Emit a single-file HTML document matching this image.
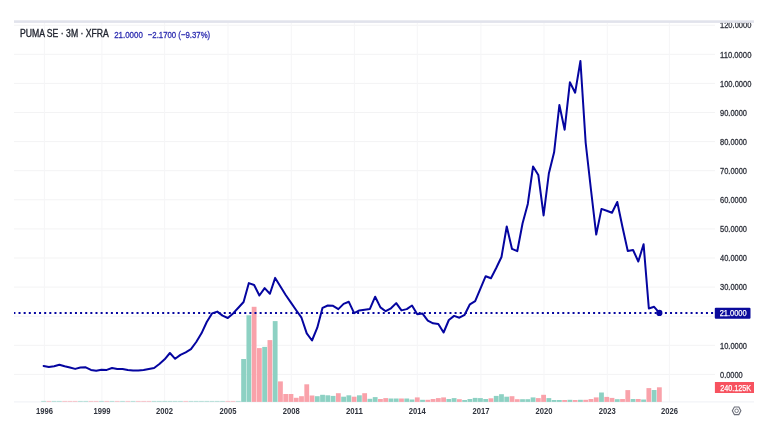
<!DOCTYPE html><html><head><meta charset="utf-8"><style>
html,body{margin:0;padding:0;background:#fff;width:767px;height:433px;overflow:hidden}
svg{display:block;will-change:transform}
text{font-family:"Liberation Sans",sans-serif}
</style></head><body>
<svg width="767" height="433" viewBox="0 0 767 433">
<rect width="767" height="433" fill="#fff"/>
<rect x="14" y="373.90" width="701" height="1" fill="#f3f3f4"/>
<rect x="14" y="344.80" width="701" height="1" fill="#f3f3f4"/>
<rect x="14" y="315.70" width="701" height="1" fill="#f3f3f4"/>
<rect x="14" y="286.60" width="701" height="1" fill="#f3f3f4"/>
<rect x="14" y="257.50" width="701" height="1" fill="#f3f3f4"/>
<rect x="14" y="228.40" width="701" height="1" fill="#f3f3f4"/>
<rect x="14" y="199.30" width="701" height="1" fill="#f3f3f4"/>
<rect x="14" y="170.20" width="701" height="1" fill="#f3f3f4"/>
<rect x="14" y="141.10" width="701" height="1" fill="#f3f3f4"/>
<rect x="14" y="112.00" width="701" height="1" fill="#f3f3f4"/>
<rect x="14" y="82.90" width="701" height="1" fill="#f3f3f4"/>
<rect x="14" y="53.80" width="701" height="1" fill="#f3f3f4"/>
<rect x="14" y="24.70" width="701" height="1" fill="#f3f3f4"/>
<rect x="43.90" y="22" width="1" height="380" fill="#f5f5f7"/>
<rect x="101.40" y="22" width="1" height="380" fill="#f5f5f7"/>
<rect x="164.10" y="22" width="1" height="380" fill="#f5f5f7"/>
<rect x="227.50" y="22" width="1" height="380" fill="#f5f5f7"/>
<rect x="290.80" y="22" width="1" height="380" fill="#f5f5f7"/>
<rect x="353.90" y="22" width="1" height="380" fill="#f5f5f7"/>
<rect x="416.80" y="22" width="1" height="380" fill="#f5f5f7"/>
<rect x="480.40" y="22" width="1" height="380" fill="#f5f5f7"/>
<rect x="543.50" y="22" width="1" height="380" fill="#f5f5f7"/>
<rect x="606.80" y="22" width="1" height="380" fill="#f5f5f7"/>
<rect x="668.90" y="22" width="1" height="380" fill="#f5f5f7"/>
<rect x="14" y="401.4" width="740" height="1" fill="#eef0f5"/>
<rect x="41.20" y="400.90" width="4.8" height="1" fill="#8dd1c3" opacity="0.6"/>
<rect x="46.46" y="400.90" width="4.8" height="1" fill="#f9a2aa" opacity="0.6"/>
<rect x="51.73" y="400.90" width="4.8" height="1" fill="#8dd1c3" opacity="0.6"/>
<rect x="56.99" y="400.90" width="4.8" height="1" fill="#8dd1c3" opacity="0.6"/>
<rect x="62.25" y="400.90" width="4.8" height="1" fill="#f9a2aa" opacity="0.6"/>
<rect x="67.51" y="400.90" width="4.8" height="1" fill="#f9a2aa" opacity="0.6"/>
<rect x="72.78" y="400.90" width="4.8" height="1" fill="#f9a2aa" opacity="0.6"/>
<rect x="78.04" y="400.90" width="4.8" height="1" fill="#8dd1c3" opacity="0.6"/>
<rect x="83.30" y="400.90" width="4.8" height="1" fill="#8dd1c3" opacity="0.6"/>
<rect x="88.57" y="400.90" width="4.8" height="1" fill="#f9a2aa" opacity="0.6"/>
<rect x="93.83" y="400.90" width="4.8" height="1" fill="#f9a2aa" opacity="0.6"/>
<rect x="99.09" y="400.90" width="4.8" height="1" fill="#8dd1c3" opacity="0.6"/>
<rect x="104.36" y="400.90" width="4.8" height="1" fill="#f9a2aa" opacity="0.6"/>
<rect x="109.62" y="400.90" width="4.8" height="1" fill="#8dd1c3" opacity="0.6"/>
<rect x="114.88" y="400.90" width="4.8" height="1" fill="#f9a2aa" opacity="0.6"/>
<rect x="120.14" y="400.90" width="4.8" height="1" fill="#8dd1c3" opacity="0.6"/>
<rect x="125.41" y="400.90" width="4.8" height="1" fill="#f9a2aa" opacity="0.6"/>
<rect x="130.67" y="400.90" width="4.8" height="1" fill="#8dd1c3" opacity="0.6"/>
<rect x="135.93" y="400.90" width="4.8" height="1" fill="#f9a2aa" opacity="0.6"/>
<rect x="141.20" y="400.90" width="4.8" height="1" fill="#f9a2aa" opacity="0.6"/>
<rect x="146.46" y="400.90" width="4.8" height="1" fill="#f9a2aa" opacity="0.6"/>
<rect x="151.72" y="400.90" width="4.8" height="1" fill="#8dd1c3" opacity="0.6"/>
<rect x="156.99" y="400.90" width="4.8" height="1" fill="#8dd1c3" opacity="0.6"/>
<rect x="162.25" y="400.90" width="4.8" height="1" fill="#8dd1c3" opacity="0.6"/>
<rect x="167.51" y="400.90" width="4.8" height="1" fill="#8dd1c3" opacity="0.6"/>
<rect x="172.77" y="400.90" width="4.8" height="1" fill="#8dd1c3" opacity="0.6"/>
<rect x="178.04" y="400.90" width="4.8" height="1" fill="#8dd1c3" opacity="0.6"/>
<rect x="183.30" y="400.90" width="4.8" height="1" fill="#f9a2aa" opacity="0.6"/>
<rect x="188.56" y="400.90" width="4.8" height="1" fill="#8dd1c3" opacity="0.6"/>
<rect x="193.83" y="400.90" width="4.8" height="1" fill="#8dd1c3" opacity="0.6"/>
<rect x="199.09" y="400.90" width="4.8" height="1" fill="#8dd1c3" opacity="0.6"/>
<rect x="204.35" y="400.90" width="4.8" height="1" fill="#8dd1c3" opacity="0.6"/>
<rect x="209.62" y="400.90" width="4.8" height="1" fill="#8dd1c3" opacity="0.6"/>
<rect x="214.88" y="400.90" width="4.8" height="1" fill="#8dd1c3" opacity="0.6"/>
<rect x="220.14" y="400.90" width="4.8" height="1" fill="#8dd1c3" opacity="0.6"/>
<rect x="225.40" y="400.90" width="4.8" height="1" fill="#f9a2aa" opacity="0.6"/>
<rect x="230.67" y="400.90" width="4.8" height="1" fill="#f9a2aa" opacity="0.6"/>
<rect x="235.93" y="400.90" width="4.8" height="1" fill="#8dd1c3" opacity="0.6"/>
<rect x="241.19" y="359.00" width="4.8" height="42.90" fill="#8dd1c3"/>
<rect x="246.46" y="315.30" width="4.8" height="86.60" fill="#8dd1c3"/>
<rect x="251.72" y="306.80" width="4.8" height="95.10" fill="#f9a2aa"/>
<rect x="256.98" y="348.10" width="4.8" height="53.80" fill="#f9a2aa"/>
<rect x="262.25" y="346.90" width="4.8" height="55.00" fill="#8dd1c3"/>
<rect x="267.51" y="340.10" width="4.8" height="61.80" fill="#f9a2aa"/>
<rect x="272.77" y="321.10" width="4.8" height="80.80" fill="#8dd1c3"/>
<rect x="278.04" y="381.40" width="4.8" height="20.50" fill="#f9a2aa"/>
<rect x="283.30" y="394.00" width="4.8" height="7.90" fill="#f9a2aa"/>
<rect x="288.56" y="394.00" width="4.8" height="7.90" fill="#f9a2aa"/>
<rect x="293.82" y="397.80" width="4.8" height="4.10" fill="#f9a2aa"/>
<rect x="299.09" y="396.20" width="4.8" height="5.70" fill="#f9a2aa"/>
<rect x="304.35" y="384.30" width="4.8" height="17.60" fill="#f9a2aa"/>
<rect x="309.61" y="395.50" width="4.8" height="6.40" fill="#f9a2aa"/>
<rect x="314.88" y="396.20" width="4.8" height="5.70" fill="#8dd1c3"/>
<rect x="320.14" y="394.80" width="4.8" height="7.10" fill="#8dd1c3"/>
<rect x="325.40" y="395.30" width="4.8" height="6.60" fill="#8dd1c3"/>
<rect x="330.67" y="395.90" width="4.8" height="6.00" fill="#8dd1c3"/>
<rect x="335.93" y="393.20" width="4.8" height="8.70" fill="#f9a2aa"/>
<rect x="341.19" y="396.70" width="4.8" height="5.20" fill="#8dd1c3"/>
<rect x="346.45" y="395.30" width="4.8" height="6.60" fill="#8dd1c3"/>
<rect x="351.72" y="396.70" width="4.8" height="5.20" fill="#f9a2aa"/>
<rect x="356.98" y="395.30" width="4.8" height="6.60" fill="#8dd1c3"/>
<rect x="362.24" y="393.20" width="4.8" height="8.70" fill="#f9a2aa"/>
<rect x="367.51" y="398.80" width="4.8" height="3.10" fill="#8dd1c3"/>
<rect x="372.77" y="397.10" width="4.8" height="4.80" fill="#8dd1c3"/>
<rect x="378.03" y="399.00" width="4.8" height="2.90" fill="#f9a2aa"/>
<rect x="383.30" y="398.10" width="4.8" height="3.80" fill="#f9a2aa"/>
<rect x="388.56" y="398.50" width="4.8" height="3.40" fill="#8dd1c3"/>
<rect x="393.82" y="398.50" width="4.8" height="3.40" fill="#8dd1c3"/>
<rect x="399.08" y="398.50" width="4.8" height="3.40" fill="#f9a2aa"/>
<rect x="404.35" y="398.50" width="4.8" height="3.40" fill="#8dd1c3"/>
<rect x="409.61" y="399.50" width="4.8" height="2.40" fill="#8dd1c3"/>
<rect x="414.87" y="397.40" width="4.8" height="4.50" fill="#f9a2aa"/>
<rect x="420.14" y="399.80" width="4.8" height="2.10" fill="#8dd1c3"/>
<rect x="425.40" y="399.80" width="4.8" height="2.10" fill="#f9a2aa"/>
<rect x="430.66" y="399.00" width="4.8" height="2.90" fill="#f9a2aa"/>
<rect x="435.93" y="398.10" width="4.8" height="3.80" fill="#f9a2aa"/>
<rect x="441.19" y="397.40" width="4.8" height="4.50" fill="#f9a2aa"/>
<rect x="446.45" y="399.00" width="4.8" height="2.90" fill="#8dd1c3"/>
<rect x="451.71" y="398.10" width="4.8" height="3.80" fill="#8dd1c3"/>
<rect x="456.98" y="399.20" width="4.8" height="2.70" fill="#f9a2aa"/>
<rect x="462.24" y="400.00" width="4.8" height="1.90" fill="#8dd1c3"/>
<rect x="467.50" y="399.00" width="4.8" height="2.90" fill="#8dd1c3"/>
<rect x="472.77" y="397.90" width="4.8" height="4.00" fill="#8dd1c3"/>
<rect x="478.03" y="398.10" width="4.8" height="3.80" fill="#8dd1c3"/>
<rect x="483.29" y="399.00" width="4.8" height="2.90" fill="#8dd1c3"/>
<rect x="488.56" y="398.30" width="4.8" height="3.60" fill="#f9a2aa"/>
<rect x="493.82" y="395.90" width="4.8" height="6.00" fill="#8dd1c3"/>
<rect x="499.08" y="394.20" width="4.8" height="7.70" fill="#8dd1c3"/>
<rect x="504.34" y="396.70" width="4.8" height="5.20" fill="#8dd1c3"/>
<rect x="509.61" y="396.20" width="4.8" height="5.70" fill="#f9a2aa"/>
<rect x="514.87" y="399.20" width="4.8" height="2.70" fill="#f9a2aa"/>
<rect x="520.13" y="399.20" width="4.8" height="2.70" fill="#8dd1c3"/>
<rect x="525.40" y="399.20" width="4.8" height="2.70" fill="#8dd1c3"/>
<rect x="530.66" y="397.40" width="4.8" height="4.50" fill="#8dd1c3"/>
<rect x="535.92" y="398.10" width="4.8" height="3.80" fill="#f9a2aa"/>
<rect x="541.19" y="394.80" width="4.8" height="7.10" fill="#f9a2aa"/>
<rect x="546.45" y="398.10" width="4.8" height="3.80" fill="#8dd1c3"/>
<rect x="551.71" y="400.00" width="4.8" height="1.90" fill="#8dd1c3"/>
<rect x="556.97" y="400.00" width="4.8" height="1.90" fill="#8dd1c3"/>
<rect x="562.24" y="400.00" width="4.8" height="1.90" fill="#f9a2aa"/>
<rect x="567.50" y="399.80" width="4.8" height="2.10" fill="#8dd1c3"/>
<rect x="572.76" y="400.00" width="4.8" height="1.90" fill="#f9a2aa"/>
<rect x="578.03" y="399.80" width="4.8" height="2.10" fill="#8dd1c3"/>
<rect x="583.29" y="399.80" width="4.8" height="2.10" fill="#f9a2aa"/>
<rect x="588.55" y="399.00" width="4.8" height="2.90" fill="#f9a2aa"/>
<rect x="593.82" y="397.40" width="4.8" height="4.50" fill="#f9a2aa"/>
<rect x="599.08" y="392.50" width="4.8" height="9.40" fill="#8dd1c3"/>
<rect x="604.34" y="396.90" width="4.8" height="5.00" fill="#f9a2aa"/>
<rect x="609.60" y="397.90" width="4.8" height="4.00" fill="#f9a2aa"/>
<rect x="614.87" y="399.20" width="4.8" height="2.70" fill="#8dd1c3"/>
<rect x="620.13" y="399.00" width="4.8" height="2.90" fill="#f9a2aa"/>
<rect x="625.39" y="390.10" width="4.8" height="11.80" fill="#f9a2aa"/>
<rect x="630.66" y="399.00" width="4.8" height="2.90" fill="#8dd1c3"/>
<rect x="635.92" y="399.00" width="4.8" height="2.90" fill="#f9a2aa"/>
<rect x="641.18" y="399.50" width="4.8" height="2.40" fill="#8dd1c3"/>
<rect x="646.45" y="388.10" width="4.8" height="13.80" fill="#f9a2aa"/>
<rect x="651.71" y="390.00" width="4.8" height="11.90" fill="#8dd1c3"/>
<rect x="656.97" y="387.30" width="4.8" height="14.60" fill="#f9a2aa"/>
<line x1="14" y1="312.9" x2="715" y2="312.9" stroke="#0505a0" stroke-width="2" stroke-dasharray="2 3.13" stroke-dashoffset="0.6"/>
<polyline points="43.60,366.00 48.86,367.10 54.13,366.30 59.39,364.80 64.65,366.30 69.91,367.50 75.18,368.90 80.44,367.50 85.70,367.30 90.97,369.90 96.23,370.80 101.49,369.70 106.76,369.90 112.02,368.00 117.28,369.00 122.54,369.00 127.81,370.00 133.07,370.60 138.33,370.60 143.60,369.90 148.86,368.90 154.12,368.00 159.39,364.00 164.65,359.30 169.91,353.00 175.17,358.80 180.44,354.90 185.70,352.30 190.96,349.20 196.23,342.00 201.49,333.30 206.75,322.00 212.02,313.40 217.28,311.60 222.54,315.60 227.80,318.00 233.07,313.40 238.33,307.80 243.59,302.00 248.86,283.10 254.12,285.00 259.38,295.50 264.65,288.10 269.91,293.70 275.17,277.90 280.44,286.50 285.70,295.00 290.96,302.60 296.22,310.30 301.49,317.70 306.75,333.40 312.01,340.50 317.28,327.70 322.54,307.80 327.80,305.50 333.06,305.80 338.33,309.10 343.59,303.90 348.85,301.80 354.12,313.10 359.38,310.40 364.64,309.70 369.91,308.90 375.17,296.70 380.43,307.40 385.69,311.20 390.96,308.30 396.22,303.10 401.48,310.40 406.75,309.10 412.01,305.50 417.27,314.20 422.54,313.60 427.80,320.70 433.06,323.30 438.32,323.90 443.59,332.50 448.85,320.00 454.11,315.90 459.38,317.70 464.64,314.80 469.90,304.30 475.17,301.10 480.43,288.60 485.69,276.20 490.96,278.30 496.22,268.00 501.48,257.00 506.74,226.50 512.01,248.90 517.27,251.20 522.53,223.50 527.80,203.90 533.06,166.50 538.32,175.00 543.59,215.40 548.85,173.50 554.11,152.30 559.37,105.00 564.64,129.70 569.90,82.30 575.16,92.70 580.43,61.00 585.69,143.00 590.95,189.50 596.22,234.60 601.48,208.90 606.74,210.70 612.00,212.80 617.27,202.00 622.53,227.30 627.79,251.10 633.06,250.00 638.32,261.50 643.58,244.20 648.85,308.50 654.11,306.80 659.37,312.90" fill="none" stroke="#0505a0" stroke-width="2" stroke-linejoin="round" stroke-linecap="round"/>
<circle cx="659.37" cy="312.9" r="3.1" fill="#0505a0"/>
<text x="720" y="377.60" font-size="9" fill="#2f323c" stroke="#2f323c" stroke-width="0.3" textLength="22.7" lengthAdjust="spacingAndGlyphs">0.0000</text>
<text x="720" y="348.50" font-size="9" fill="#2f323c" stroke="#2f323c" stroke-width="0.3" textLength="27.0" lengthAdjust="spacingAndGlyphs">10.0000</text>
<text x="720" y="290.30" font-size="9" fill="#2f323c" stroke="#2f323c" stroke-width="0.3" textLength="27.0" lengthAdjust="spacingAndGlyphs">30.0000</text>
<text x="720" y="261.20" font-size="9" fill="#2f323c" stroke="#2f323c" stroke-width="0.3" textLength="27.0" lengthAdjust="spacingAndGlyphs">40.0000</text>
<text x="720" y="232.10" font-size="9" fill="#2f323c" stroke="#2f323c" stroke-width="0.3" textLength="27.0" lengthAdjust="spacingAndGlyphs">50.0000</text>
<text x="720" y="203.00" font-size="9" fill="#2f323c" stroke="#2f323c" stroke-width="0.3" textLength="27.0" lengthAdjust="spacingAndGlyphs">60.0000</text>
<text x="720" y="173.90" font-size="9" fill="#2f323c" stroke="#2f323c" stroke-width="0.3" textLength="27.0" lengthAdjust="spacingAndGlyphs">70.0000</text>
<text x="720" y="144.80" font-size="9" fill="#2f323c" stroke="#2f323c" stroke-width="0.3" textLength="27.0" lengthAdjust="spacingAndGlyphs">80.0000</text>
<text x="720" y="115.70" font-size="9" fill="#2f323c" stroke="#2f323c" stroke-width="0.3" textLength="27.0" lengthAdjust="spacingAndGlyphs">90.0000</text>
<text x="720" y="86.60" font-size="9" fill="#2f323c" stroke="#2f323c" stroke-width="0.3" textLength="31.4" lengthAdjust="spacingAndGlyphs">100.0000</text>
<text x="720" y="57.50" font-size="9" fill="#2f323c" stroke="#2f323c" stroke-width="0.3" textLength="31.4" lengthAdjust="spacingAndGlyphs">110.0000</text>
<text x="720" y="28.40" font-size="9" fill="#2f323c" stroke="#2f323c" stroke-width="0.3" textLength="31.4" lengthAdjust="spacingAndGlyphs">120.0000</text>
<rect x="714.8" y="307.7" width="35.7" height="11.1" rx="1" fill="#0b0b9c"/>
<text x="719.7" y="316.2" font-size="9" fill="#fff" stroke="#fff" stroke-width="0.25" textLength="27" lengthAdjust="spacingAndGlyphs">21.0000</text>
<rect x="714.9" y="382" width="39.1" height="11" fill="#f7525f"/>
<text x="720.2" y="390.8" font-size="9" fill="#fff" stroke="#fff" stroke-width="0.25" textLength="31" lengthAdjust="spacingAndGlyphs">240.125K</text>
<text x="44.40" y="413.7" font-size="8.5" font-weight="bold" fill="#30343e" text-anchor="middle" textLength="17" lengthAdjust="spacingAndGlyphs">1996</text>
<text x="101.90" y="413.7" font-size="8.5" font-weight="bold" fill="#30343e" text-anchor="middle" textLength="17" lengthAdjust="spacingAndGlyphs">1999</text>
<text x="164.60" y="413.7" font-size="8.5" font-weight="bold" fill="#30343e" text-anchor="middle" textLength="17" lengthAdjust="spacingAndGlyphs">2002</text>
<text x="228.00" y="413.7" font-size="8.5" font-weight="bold" fill="#30343e" text-anchor="middle" textLength="17" lengthAdjust="spacingAndGlyphs">2005</text>
<text x="291.30" y="413.7" font-size="8.5" font-weight="bold" fill="#30343e" text-anchor="middle" textLength="17" lengthAdjust="spacingAndGlyphs">2008</text>
<text x="354.40" y="413.7" font-size="8.5" font-weight="bold" fill="#30343e" text-anchor="middle" textLength="17" lengthAdjust="spacingAndGlyphs">2011</text>
<text x="417.30" y="413.7" font-size="8.5" font-weight="bold" fill="#30343e" text-anchor="middle" textLength="17" lengthAdjust="spacingAndGlyphs">2014</text>
<text x="480.90" y="413.7" font-size="8.5" font-weight="bold" fill="#30343e" text-anchor="middle" textLength="17" lengthAdjust="spacingAndGlyphs">2017</text>
<text x="544.00" y="413.7" font-size="8.5" font-weight="bold" fill="#30343e" text-anchor="middle" textLength="17" lengthAdjust="spacingAndGlyphs">2020</text>
<text x="607.30" y="413.7" font-size="8.5" font-weight="bold" fill="#30343e" text-anchor="middle" textLength="17" lengthAdjust="spacingAndGlyphs">2023</text>
<text x="669.40" y="413.7" font-size="8.5" font-weight="bold" fill="#30343e" text-anchor="middle" textLength="17" lengthAdjust="spacingAndGlyphs">2026</text>
<text x="19.9" y="37.1" font-size="10.3" fill="#1e222d" stroke="#1e222d" stroke-width="0.35" textLength="89" lengthAdjust="spacingAndGlyphs">PUMA SE · 3M · XFRA</text>
<text x="114.2" y="37.7" font-size="9.5" fill="#2c2cb0" stroke="#2c2cb0" stroke-width="0.3" textLength="28.6" lengthAdjust="spacingAndGlyphs">21.0000</text>
<text x="147.8" y="37.7" font-size="9.5" fill="#2c2cb0" stroke="#2c2cb0" stroke-width="0.3" textLength="62.4" lengthAdjust="spacingAndGlyphs">−2.1700 (−9.37%)</text>
<polygon points="732.3000000000001,410.8 734.4,407.0 738.8000000000001,407.0 740.9,410.8 738.8000000000001,414.6 734.4,414.6" fill="none" stroke="#6a6d78" stroke-width="1.1"/>
<circle cx="736.6" cy="410.8" r="1.8" fill="none" stroke="#6a6d78" stroke-width="0.9"/>
<rect x="0" y="0" width="767" height="20.3" fill="#fff"/>
<rect x="14" y="20.3" width="740" height="2.6" fill="#e1e3ec"/>
</svg></body></html>
